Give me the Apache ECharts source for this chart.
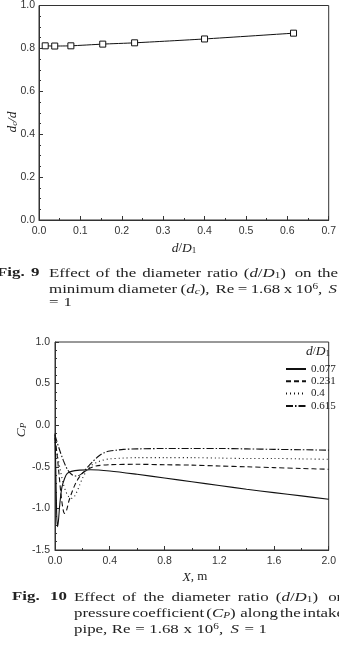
<!DOCTYPE html>
<html>
<head>
<meta charset="utf-8">
<script src="https://cdn.jsdelivr.net/npm/echarts@6/dist/echarts.min.js"></script>
<style>
  html, body { margin: 0; padding: 0; background: #fff; }
  #main { width: 339px; height: 655px; }
</style>
</head>
<body>
<div id="main"></div>
<script>
// Fig. 9 : dc/d against d/D1
var ratioX = [0.015, 0.038, 0.077, 0.154, 0.231, 0.4, 0.615];
var dcRatio = [0.812, 0.811, 0.812, 0.820, 0.826, 0.844, 0.871];
var fig9XAxis = [0, 0.7, 0.1];   // min, max, interval
var fig9YAxis = [0, 1.0, 0.2];

// Fig. 10 : Cp along the pipe for each d/D1
var cpNames = ['0.077', '0.231', '0.4', '0.615'];
var x077 = [0, 0.006, 0.012, 0.018, 0.025, 0.035, 0.05, 0.07, 0.09, 0.12, 0.18, 0.26, 0.4, 0.6, 0.8, 1.0, 1.2, 1.4, 1.6, 1.8, 2.0];
var cp077 = [-0.1, -0.55, -1.05, -1.22, -1.15, -0.95, -0.75, -0.64, -0.58, -0.555, -0.54, -0.535, -0.55, -0.59, -0.635, -0.68, -0.725, -0.77, -0.81, -0.85, -0.89];
var x231 = [0, 0.015, 0.03, 0.045, 0.06, 0.07, 0.085, 0.1, 0.125, 0.15, 0.175, 0.2, 0.25, 0.3, 0.4, 0.6, 0.8, 1.0, 1.2, 1.4, 1.6, 1.8, 2.0];
var cp231 = [-0.15, -0.35, -0.6, -0.85, -1.02, -1.06, -1.02, -0.92, -0.8, -0.7, -0.63, -0.58, -0.52, -0.49, -0.475, -0.47, -0.475, -0.48, -0.49, -0.5, -0.51, -0.52, -0.53];
var x04 = [0, 0.02, 0.04, 0.06, 0.08, 0.1, 0.12, 0.14, 0.16, 0.18, 0.2, 0.23, 0.26, 0.3, 0.35, 0.4, 0.5, 0.6, 0.8, 1.0, 1.2, 1.4, 1.6, 1.8, 2.0];
var cp04 = [-0.2, -0.38, -0.55, -0.7, -0.8, -0.86, -0.88, -0.86, -0.8, -0.72, -0.64, -0.55, -0.49, -0.45, -0.42, -0.405, -0.395, -0.39, -0.39, -0.39, -0.395, -0.4, -0.4, -0.405, -0.41];
var x0615 = [0, 0.03, 0.06, 0.09, 0.12, 0.15, 0.18, 0.21, 0.24, 0.28, 0.32, 0.36, 0.4, 0.45, 0.5, 0.6, 0.8, 1.0, 1.2, 1.4, 1.6, 1.8, 2.0];
var cp0615 = [-0.12, -0.28, -0.42, -0.53, -0.59, -0.61, -0.6, -0.56, -0.5, -0.43, -0.37, -0.33, -0.31, -0.3, -0.29, -0.285, -0.28, -0.28, -0.28, -0.285, -0.29, -0.295, -0.3];
var fig10XAxis = [0, 2.0, 0.4];
var fig10YAxis = [-1.5, 1.0, 0.5];

var INK = '#222';
var SERIF = '"Liberation Serif", "DejaVu Serif", serif';
var SANS = '"Liberation Sans", Arial, sans-serif';
var CAP = 13.5;     // caption font size
var SX = 1.25;      // the scan is stretched sideways

var RICH = {
  i: { fontStyle: 'italic', fontFamily: SERIF, fontSize: CAP, fill: INK },
  sub: { fontSize: 9, fontFamily: SERIF, verticalAlign: 'bottom', fill: INK },
  isub: { fontSize: 9, fontStyle: 'italic', fontFamily: SERIF, verticalAlign: 'bottom', fill: INK },
  sup: { fontSize: 9, fontFamily: SERIF, verticalAlign: 'top', fill: INK }
};

function zip(xs, ys) {
  return xs.map(function (x, i) { return [x, ys[i]]; });
}

var measureCtx = document.createElement('canvas').getContext('2d');
function textW(s, font) {
  measureCtx.font = font;
  return measureCtx.measureText(s).width;
}

// spread the words of one caption line between x0 and x1
function captionLine(words, x0, x1, y) {
  var font = CAP + 'px ' + SERIF;
  var ws = words.map(function (w) {
    return textW(typeof w === 'string' ? w : w.m, font) * SX;
  });
  var total = ws.reduce(function (a, b) { return a + b; }, 0);
  var gap = words.length > 1 ? (x1 - x0 - total) / (words.length - 1) : 0;
  var x = x0;
  return words.map(function (w, i) {
    var el = {
      type: 'text', x: x, y: y, scaleX: SX, silent: true,
      style: { text: typeof w === 'string' ? w : w.t, rich: RICH, font: font, fill: INK, verticalAlign: 'middle' }
    };
    x += ws[i] + gap;
    return el;
  });
}

function boldText(s, x, y) {
  return {
    type: 'text', x: x, y: y, scaleX: SX, silent: true,
    style: { text: s, font: 'bold ' + CAP + 'px ' + SERIF, fill: INK, verticalAlign: 'middle' }
  };
}

function label(s, x, y, size, rot) {
  return {
    type: 'text', x: x, y: y, rotation: rot || 0, silent: true,
    style: { text: s, rich: RICH, font: size + 'px ' + SERIF, fill: INK, align: 'center', verticalAlign: 'middle' }
  };
}

var dD1 = { t: '({i|d}/{i|D}{sub|1})', m: '(d/D1)' };

var graphics = [].concat(
  // axis titles
  label('{i|d}/{i|D}{sub|1}', 184, 248, 13),
  label('{i|d}{isub|c}{i|/d}', 12, 122, 14, Math.PI / 2),
  label('{i|X}, m', 195, 577, 13),
  label('{i|C}{isub|P}', 21, 430, 14, Math.PI / 2),
  label('{i|d}/{i|D}{sub|1}', 318, 351, 11),
  // Fig. 9 caption
  boldText('Fig.', -3, 273), boldText('9', 31, 273),
  captionLine(['Effect', 'of', 'the', 'diameter', 'ratio', dD1, 'on', 'the'], 49, 338, 273),
  captionLine(['minimum', 'diameter', { t: '({i|d}{isub|c}),', m: '(dc),' }, 'Re', '=', '1.68', 'x',
    { t: '10{sup|6},', m: '106,' }, { t: '{i|S}', m: 'S' }], 49, 338, 289),
  captionLine(['=', '1'], 49, 72, 302),
  // Fig. 10 caption
  boldText('Fig.', 12, 597), boldText('10', 50, 597),
  captionLine(['Effect', 'of', 'the', 'diameter', 'ratio', dD1, 'on'], 74, 345, 597),
  captionLine(['pressure', 'coefficient', { t: '({i|C}{isub|P})', m: '(CP)' }, 'along', 'the', 'intake'], 74, 344, 613),
  captionLine(['pipe,', 'Re', '=', '1.68', 'x', { t: '10{sup|6},', m: '106,' }, { t: '{i|S}', m: 'S' }, '=', '1'], 74, 267, 629)
);

function valueAxis(range, grid, splits, labelMargin) {
  return {
    type: 'value', gridIndex: grid,
    min: range[0], max: range[1], interval: range[2],
    axisLine: { show: true, onZero: false, lineStyle: { color: '#333', width: 1 } },
    axisTick: { show: true, inside: true, length: 4, lineStyle: { color: '#333' } },
    minorTick: { show: true, splitNumber: splits, length: 2, lineStyle: { color: '#333' } },
    splitLine: { show: false },
    axisLabel: {
      color: '#333', fontFamily: SANS, fontSize: 10.5, margin: labelMargin,
      formatter: function (v) { return v.toFixed(1); }
    }
  };
}

var lineTypes = ['solid', [5, 3], [1, 3], [7, 2, 1.5, 2]];
var cpX = [x077, x231, x04, x0615];
var cpY = [cp077, cp231, cp04, cp0615];

var cpSeries = cpNames.map(function (name, k) {
  return {
    name: name, type: 'line', xAxisIndex: 1, yAxisIndex: 1,
    data: zip(cpX[k], cpY[k]), symbol: 'none', smooth: 0.3,
    lineStyle: { color: '#111', width: 1.1, type: lineTypes[k] },
    itemStyle: { color: '#111' }
  };
});

var option = {
  backgroundColor: '#fff',
  animation: false,
  grid: [
    { left: 39, top: 1, width: 291, height: 219, show: true, borderColor: '#333', borderWidth: 1 },
    { left: 55, top: 342, width: 279, height: 208, show: true, borderColor: '#333', borderWidth: 1 }
  ],
  xAxis: [valueAxis(fig9XAxis, 0, 2, 6), valueAxis(fig10XAxis, 1, 2, 6)],
  yAxis: [valueAxis(fig9YAxis, 0, 4, 4), valueAxis(fig10YAxis, 1, 5, 5)],
  legend: {
    data: cpNames, orient: 'vertical', left: 280, top: 358,
    itemWidth: 20, itemHeight: 10, itemGap: 0.3,
    itemStyle: { opacity: 0 },
    textStyle: { fontFamily: SERIF, fontSize: 11, color: INK, lineHeight: 12 }
  },
  series: [{
    name: 'dc/d', type: 'line', xAxisIndex: 0, yAxisIndex: 0,
    data: zip(ratioX, dcRatio), symbol: 'rect', symbolSize: 6, smooth: 0.2,
    lineStyle: { color: '#111', width: 1 },
    itemStyle: { color: '#fff', borderColor: '#111', borderWidth: 1 }
  }].concat(cpSeries),
  graphic: graphics
};

var chart = echarts.init(document.getElementById('main'));
chart.setOption(option);
</script>
</body>
</html>
